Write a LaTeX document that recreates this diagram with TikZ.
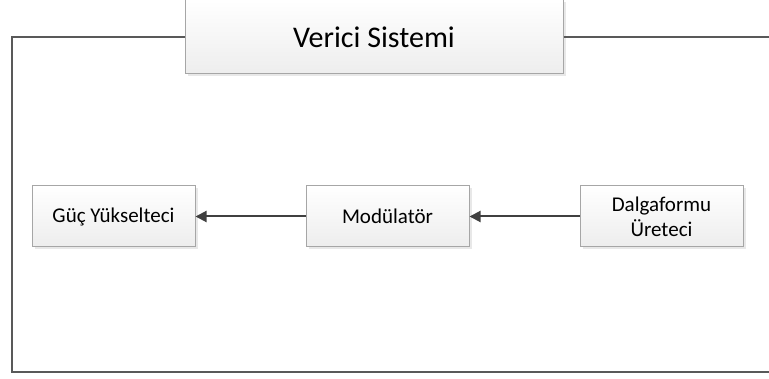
\documentclass[tikz,border=0pt]{standalone}
\usepackage{fontspec}
\setmainfont{Carlito}
\usetikzlibrary{positioning,shadows,arrows.meta}
\tikzset{
  kutu/.style={draw=black!35, line width=1pt, top color=white, bottom color=black!7,
    inner sep=0pt, align=center,
    drop shadow={shadow xshift=2.5pt, shadow yshift=-2.5pt, fill=black!20, opacity=0.45}},
  blok/.style={kutu, minimum width=163pt, minimum height=61pt,
    font=\fontsize{21}{25}\selectfont},
  baslik/.style={kutu, minimum width=378pt, minimum height=74pt,
    font=\fontsize{30}{36}\selectfont},
  ok/.style={draw=black!75, line width=2pt, -{Triangle[length=11pt,width=11pt]}},
  cerceve/.style={draw=black!65, line width=2pt}
}

\begin{document}
\begin{tikzpicture}[x=1pt,y=-1pt]
\useasboundingbox (0,0) rectangle (769,379);

% cerceve koseleri
\coordinate (solust) at (12,37);
\coordinate (solalt) at (12,372);
\coordinate (sagalt) at (769,372);
\coordinate (sagust) at (769,37);

\node[baslik] (verici) at (374,37) {Verici Sistemi};

\draw[cerceve] (verici.west) -- (solust) -- (solalt) -- (sagalt);
\draw[cerceve] (verici.east) -- (sagust);

% bloklar
\node[blok] (guc) at (113.5,216.5) {Güç Yükselteci};
\node[blok, right=110pt of guc] (mod) {Modülatör};
\node[blok, right=110pt of mod] (dalga) {Dalgaformu\\Üreteci};

\draw[ok] (dalga.west) -- (mod.east);
\draw[ok] (mod.west) -- (guc.east);
\end{tikzpicture}
\end{document}
